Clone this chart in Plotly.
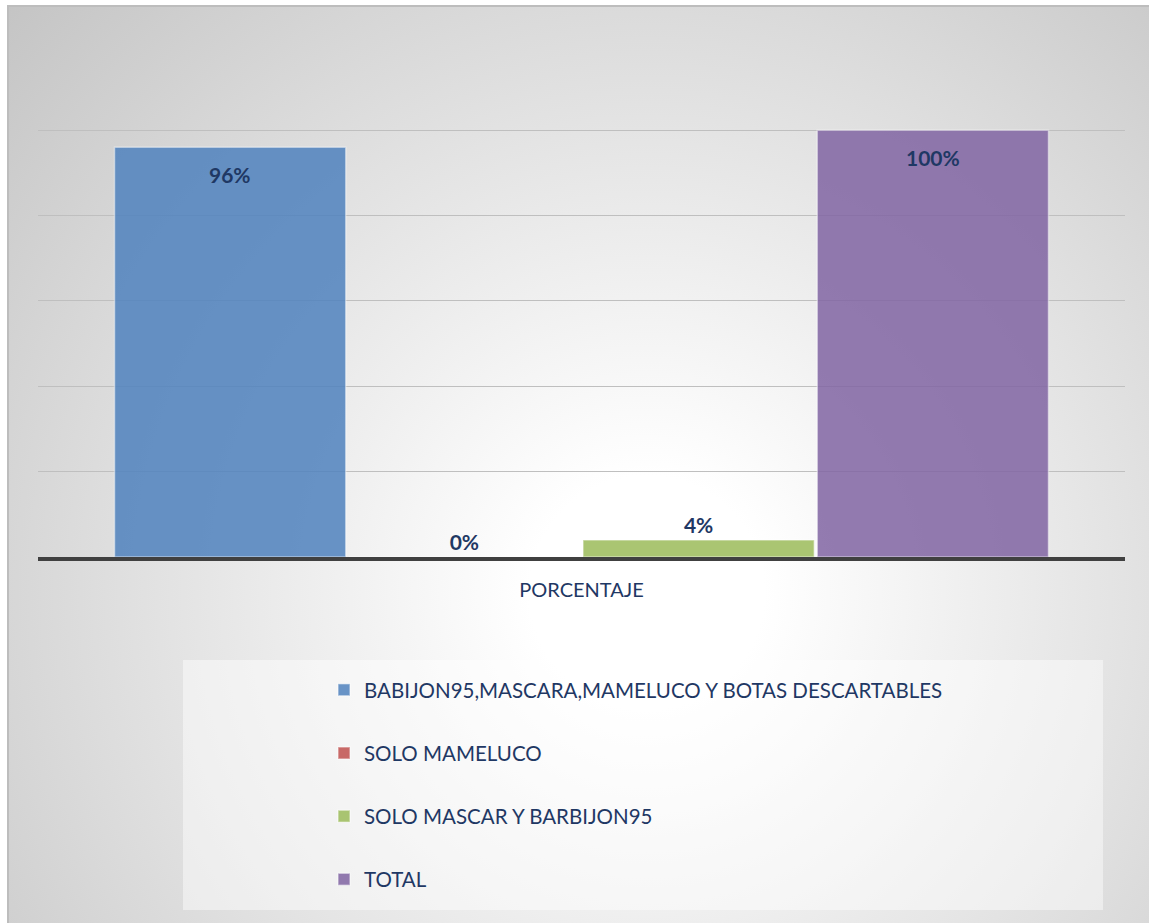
import base64
import plotly.graph_objects as go

# data
category = ["PORCENTAJE"]
series_names = [
    "BABIJON95,MASCARA,MAMELUCO Y BOTAS DESCARTABLES",
    "SOLO MAMELUCO",
    "SOLO MASCAR Y BARBIJON95",
    "TOTAL",
]
series_values = [96, 0, 4, 100]
series_labels = ["96%", "0%", "4%", "100%"]
series_colors = [
    "rgba(79,129,189,0.85)",
    "rgba(192,80,77,0.85)",
    "rgba(155,187,89,0.85)",
    "rgba(128,100,162,0.85)",
]
label_inside = [True, False, False, True]

NAVY = "#1F3864"
FONT = "Lato"

W, H = 1149, 923
# chart frame (page pixels), the chart sits inside a white page edge
FX, FY = 8, 6
# plot area in pixels; the 100 gridline sits at y=130
PL, PR, P100, PB = 38, 1125, 130, 557
YMAX = 101
px_per_unit = (PB - P100) / 100
L, R, B = PL, PR, PB
T = round(P100 - (YMAX - 100) * px_per_unit)
BARGAP = 0.138
BARGROUPGAP = 0.013


def px2x(px):
    return (px - L) / (R - L)


def py2y(py):
    return (B - py) / (B - T)


# radial gradient background of the chart frame
fw, fh = W - FX, H - FY
svg = f"""<svg xmlns='http://www.w3.org/2000/svg' width='{fw}' height='{fh}' viewBox='0 0 {fw} {fh}' preserveAspectRatio='none'>
<defs><radialGradient id='g' gradientUnits='userSpaceOnUse' cx='{0.56*fw:.0f}' cy='{0.64*fh:.0f}' r='900'>
<stop offset='0' stop-color='#ffffff'/><stop offset='0.13' stop-color='#ffffff'/>
<stop offset='1' stop-color='#c2c2c2'/></radialGradient></defs>
<rect width='{fw}' height='{fh}' fill='url(#g)'/></svg>"""
bg_src = "data:image/svg+xml;base64," + base64.b64encode(svg.encode()).decode()

fig = go.Figure()

n = len(series_names)
slot_px = (1 - BARGAP) * (R - L) / n
for i, (name, val, lab, col, inside) in enumerate(zip(series_names, series_values, series_labels,
                                                      series_colors, label_inside)):
    fig.add_trace(go.Bar(
        x=category,
        y=[val],
        name=name,
        legendgroup=name,
        text=None if inside else [lab],
        textposition="outside",
        textfont=dict(family=FONT, size=21, color=NAVY, weight="bold"),
        cliponaxis=False,
        marker=dict(color=col, line=dict(color="rgba(255,255,255,0.45)", width=1.5)),
        hoverinfo="skip",
    ))
    if inside:
        # "inside end" labels, a bit below the bar top like the original
        fig.add_annotation(
            x=category[0], y=val, xref="x", yref="y",
            xshift=(i - (n - 1) / 2) * slot_px, yshift=-27,
            text=lab, showarrow=False, yanchor="middle",
            font=dict(family=FONT, size=21, color=NAVY, weight="bold"),
        )

fig.add_layout_image(
    source=bg_src, xref="paper", yref="paper",
    x=px2x(FX), y=py2y(FY), sizex=px2x(W) - px2x(FX), sizey=py2y(FY) - py2y(H),
    xanchor="left", yanchor="top", sizing="stretch", layer="below",
)

# frame border and legend box
fig.add_shape(type="rect", xref="paper", yref="paper",
              x0=px2x(FX), x1=px2x(W + 3), y0=py2y(H + 3), y1=py2y(FY),
              line=dict(color="#BDBDBD", width=2), fillcolor="rgba(0,0,0,0)", layer="below")
fig.add_shape(type="rect", xref="paper", yref="paper",
              x0=px2x(183), x1=px2x(1103), y0=py2y(910), y1=py2y(660),
              line=dict(width=0), fillcolor="rgba(255,255,255,0.45)", layer="below")

fig.update_layout(
    width=W, height=H,
    paper_bgcolor="white",
    plot_bgcolor="rgba(0,0,0,0)",
    margin=dict(l=L, r=W - R, t=T, b=H - B, pad=0),
    barmode="group",
    bargap=BARGAP,
    bargroupgap=BARGROUPGAP,
    font=dict(family=FONT, color=NAVY),
    showlegend=True,
    legend=dict(
        x=px2x(324), y=py2y(670), xanchor="left", yanchor="top",
        bgcolor="rgba(0,0,0,0)",
        font=dict(family=FONT, size=20.5, color=NAVY),
        tracegroupgap=33.5,
        itemclick=False, itemdoubleclick=False,
    ),
    xaxis=dict(
        showline=True, linecolor="#404040", linewidth=3.5,
        showgrid=False, ticks="", ticklabelstandoff=12,
        tickfont=dict(family=FONT, size=20, color=NAVY),
        fixedrange=True,
    ),
    yaxis=dict(
        range=[0, YMAX], tickvals=[0, 20, 40, 60, 80, 100], showticklabels=False,
        showgrid=True, gridcolor="#BFBFBF", gridwidth=1,
        zeroline=False, showline=False, fixedrange=True,
    ),
)

# drop the default body margin so the figure fills the window exactly
fig.write_html(
    "out.html",
    config={"displayModeBar": False},
    post_script="document.body.style.margin='0';document.body.style.overflow='hidden';",
)
